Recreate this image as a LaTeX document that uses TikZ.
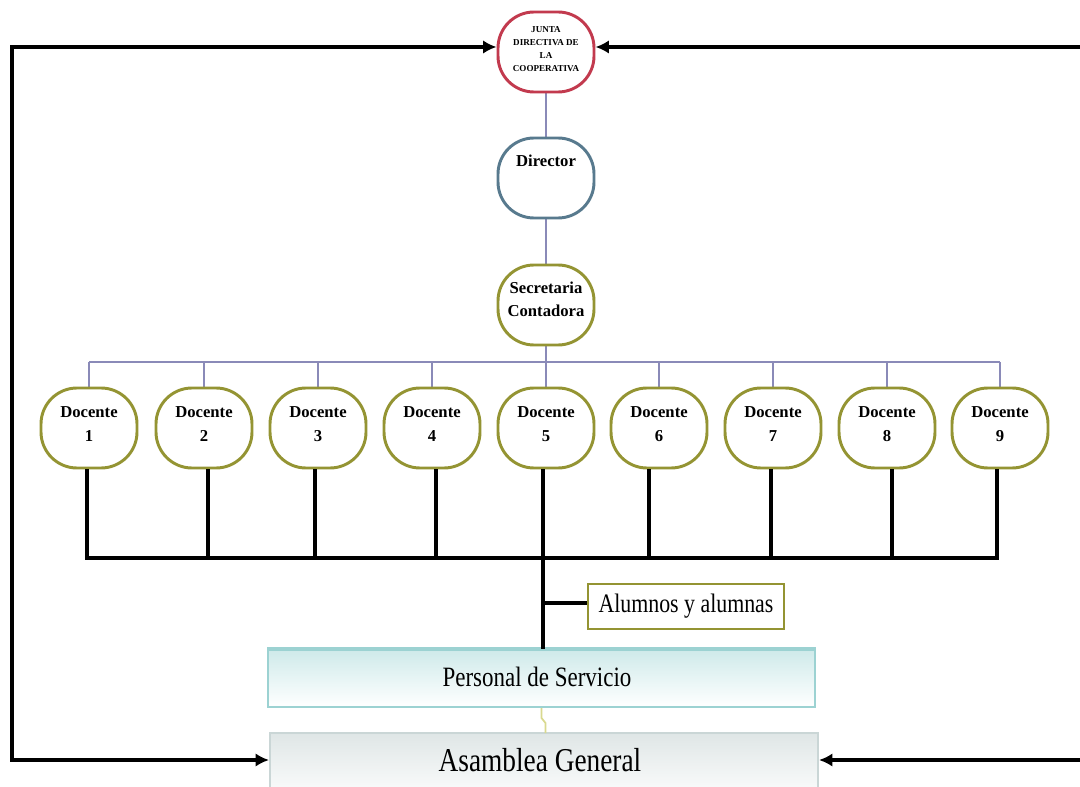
\documentclass[tikz,border=0pt]{standalone}
\usepackage{fontspec}
\setmainfont{Liberation Serif}
\newfontfamily\condfont[FakeStretch=0.82]{Liberation Serif}
\usetikzlibrary{arrows.meta}
\definecolor{jred}{HTML}{C23A4E}
\definecolor{dblue}{HTML}{587A8E}
\definecolor{olivetwo}{HTML}{949433}
\definecolor{connc}{HTML}{8A8AB8}
\definecolor{tealb}{HTML}{9CD2D2}
\definecolor{tealf}{HTML}{CFEAEA}
\definecolor{grayb}{HTML}{CAD6D6}
\definecolor{grayf}{HTML}{DFE6E6}
\definecolor{zigc}{HTML}{D9D98F}
\begin{document}
\begin{tikzpicture}[x=0.75pt,y=-0.75pt,
  rbox/.style={draw,line width=2.2pt,rounded corners=27pt,minimum width=72pt,minimum height=60pt,fill=white,inner sep=0pt},
  lbl/.style={align=center,inner sep=0pt,font=\bfseries\fontsize{12.5}{17.5}\selectfont},
  connline/.style={draw=connc,line width=1.5pt},
  blk/.style={line width=3pt,draw=black},
  arr/.style={blk,{Latex[length=10pt,width=10pt]}-{Latex[length=10pt,width=10pt]}}]
\clip (0,0) rectangle (1080,787);
\fill[white] (0,0) rectangle (1080,787);

% connectors (purple)
\coordinate (bus) at (546,362);
\coordinate (jc) at (546,52);
\coordinate (dc) at (546,178);
\coordinate (sc) at (546,305);
\draw[connline] (jc) -- (dc) -- (sc) -- (bus);
\draw[connline] (89,362) -- (1000,362);
\foreach \x in {89,204,318,432,546,659,773,887,1000}{
  \draw[connline] (\x,362) -- (\x,400);
}

% top boxes
\node[rbox,draw=jred] (junta) at (jc) {};
\node[lbl,font=\bfseries\fontsize{6.8}{9.6}\selectfont] (juntat) at (546,49) {JUNTA\\DIRECTIVA DE\\LA\\COOPERATIVA};
\node[rbox,draw=dblue] (dir) at (dc) {};
\node[lbl] (dirt) at (546,161) {Director};
\node[rbox,draw=olivetwo] (sec) at (sc) {};
\node[lbl] (sect) at (546,299) {Secretaria\\Contadora};

% docentes
\foreach \i/\x/\bx in {1/89/87,2/204/208,3/318/315,4/432/436,5/546/543,6/659/649,7/773/771,8/887/892,9/1000/997}{
  \node[rbox,draw=olivetwo] (d\i) at (\x,428) {};
  \node[lbl] (d\i t) at (\x,424) {Docente\\\i};
  \coordinate (b\i) at (\bx,558);
}
\draw[blk] (b1 |- d1.south) -- (b1) -- (b9) -- (b9 |- d9.south);
\foreach \i in {2,...,8}{
  \draw[blk] (b\i |- d\i.south) -- (b\i);
}

% alumnos
\node[draw=olivetwo,line width=1.5pt,fill=white,minimum width=147pt,minimum height=33.75pt,inner sep=0pt,font=\condfont\fontsize{20}{20}\selectfont] (alum) at (686,606.5) {Alumnos y alumnas};

% personal de servicio
\node[draw=tealb,line width=1.5pt,top color=tealf,bottom color=white,minimum width=410pt,minimum height=42.75pt,inner sep=0pt] (pers) at (541.5,678.5) {};
\draw[tealb,line width=2.5pt] (pers.north west) -- (pers.north east);
\node[inner sep=0pt,font=\condfont\fontsize{21}{21}\selectfont] (perst) at (537,677) {Personal de Servicio};

% main vertical and branch
\coordinate (m) at (543,558);
\draw[blk] (m) -- (m |- pers.north);
\draw[blk] (543,603) -- (alum.west |- 0,603);

% asamblea
\node[draw=grayb,line width=1.5pt,top color=grayf,bottom color=white,minimum width=411pt,minimum height=52.5pt,inner sep=0pt] (asam) at (544,768) {};
\node[inner sep=0pt,font=\condfont\fontsize{25}{25}\selectfont] (asamt) at (540,760) {Asamblea General};

% zigzag
\draw[zigc,line width=1.3pt] (pers.south) -- ++(0,10) -- ++(4,5) -- (545.5,733);

% feedback arrows
\coordinate (lt) at (12,47);
\coordinate (lb) at (12,760);
\coordinate (rt) at (1095,47);
\coordinate (rb) at (1095,760);
\draw[arr] ([yshift=3.75pt]junta.west) -- (lt) -- (lb) -- (asam.west |- lb);
\draw[arr] ([yshift=3.75pt]junta.east) -- (rt) -- (rb) -- (asam.east |- rb);
\end{tikzpicture}
\end{document}
